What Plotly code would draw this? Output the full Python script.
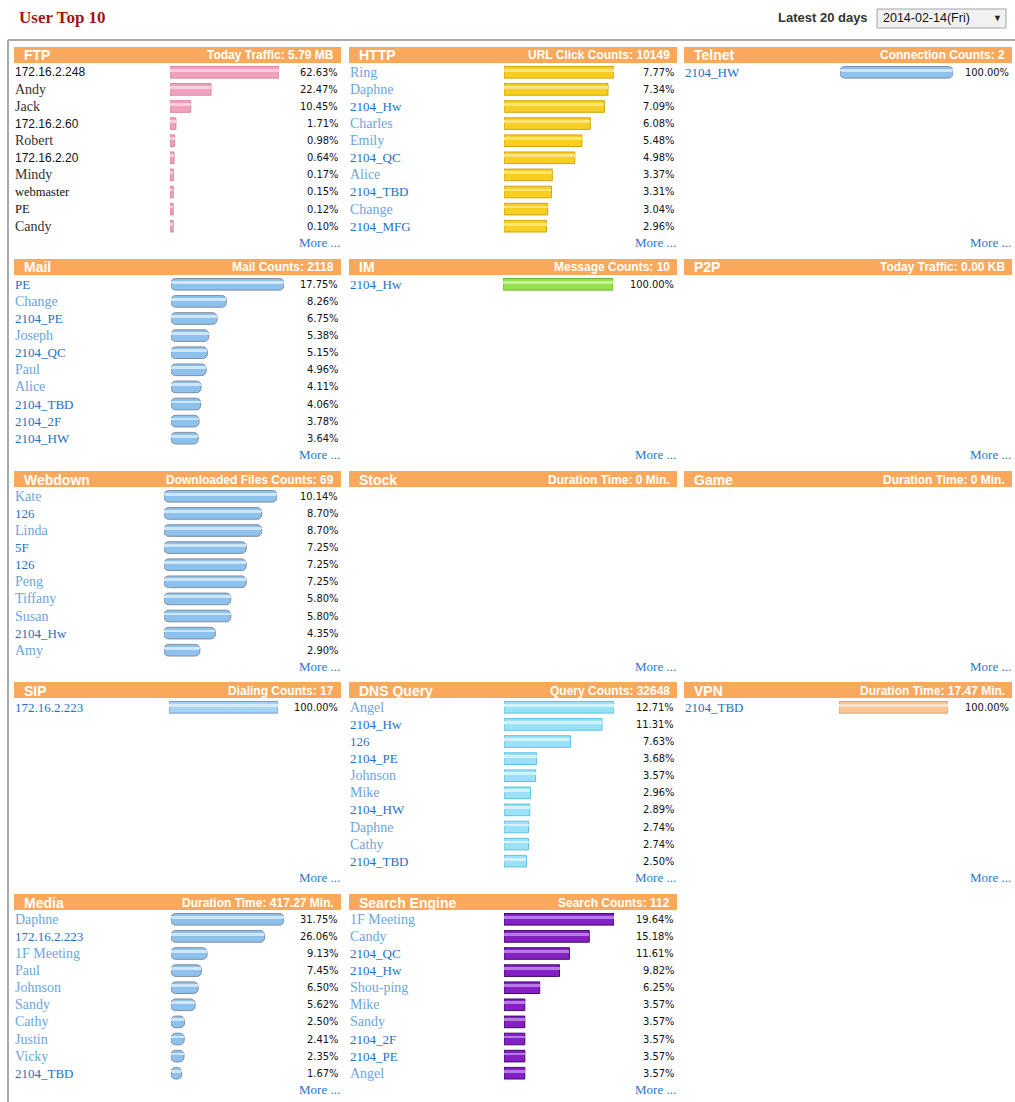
import plotly.graph_objects as go

W, H = 1015, 1102

# ---------------- data ----------------
ftp_users = ["172.16.2.248", "Andy", "Jack", "172.16.2.60", "Robert", "172.16.2.20",
             "Mindy", "webmaster", "PE", "Candy"]
ftp_pct = [62.63, 22.47, 10.45, 1.71, 0.98, 0.64, 0.17, 0.15, 0.12, 0.10]

http_users = ["Ring", "Daphne", "2104_Hw", "Charles", "Emily", "2104_QC", "Alice",
              "2104_TBD", "Change", "2104_MFG"]
http_pct = [7.77, 7.34, 7.09, 6.08, 5.48, 4.98, 3.37, 3.31, 3.04, 2.96]

telnet_users = ["2104_HW"]
telnet_pct = [100.00]

mail_users = ["PE", "Change", "2104_PE", "Joseph", "2104_QC", "Paul", "Alice",
              "2104_TBD", "2104_2F", "2104_HW"]
mail_pct = [17.75, 8.26, 6.75, 5.38, 5.15, 4.96, 4.11, 4.06, 3.78, 3.64]

im_users = ["2104_Hw"]
im_pct = [100.00]

webdown_users = ["Kate", "126", "Linda", "5F", "126", "Peng", "Tiffany", "Susan",
                 "2104_Hw", "Amy"]
webdown_pct = [10.14, 8.70, 8.70, 7.25, 7.25, 7.25, 5.80, 5.80, 4.35, 2.90]

sip_users = ["172.16.2.223"]
sip_pct = [100.00]

dns_users = ["Angel", "2104_Hw", "126", "2104_PE", "Johnson", "Mike", "2104_HW",
             "Daphne", "Cathy", "2104_TBD"]
dns_pct = [12.71, 11.31, 7.63, 3.68, 3.57, 2.96, 2.89, 2.74, 2.74, 2.50]

vpn_users = ["2104_TBD"]
vpn_pct = [100.00]

media_users = ["Daphne", "172.16.2.223", "1F Meeting", "Paul", "Johnson", "Sandy",
               "Cathy", "Justin", "Vicky", "2104_TBD"]
media_pct = [31.75, 26.06, 9.13, 7.45, 6.50, 5.62, 2.50, 2.41, 2.35, 1.67]

search_users = ["1F Meeting", "Candy", "2104_QC", "2104_Hw", "Shou-ping", "Mike",
                "Sandy", "2104_2F", "2104_PE", "Angel"]
search_pct = [19.64, 15.18, 11.61, 9.82, 6.25, 3.57, 3.57, 3.57, 3.57, 3.57]

panel_titles = ["FTP", "HTTP", "Telnet", "Mail", "IM", "P2P", "Webdown", "Stock", "Game",
                "SIP", "DNS Query", "VPN", "Media", "Search Engine"]
panel_stats = ["Today Traffic: 5.79 MB", "URL Click Counts: 10149", "Connection Counts: 2",
               "Mail Counts: 2118", "Message Counts: 10", "Today Traffic: 0.00 KB",
               "Downloaded Files Counts: 69", "Duration Time: 0 Min.", "Duration Time: 0 Min.",
               "Dialing Counts: 17", "Query Counts: 32648", "Duration Time: 17.47 Min.",
               "Duration Time: 417.27 Min.", "Search Counts: 112"]
panel_users = [ftp_users, http_users, telnet_users, mail_users, im_users, [], webdown_users,
               [], [], sip_users, dns_users, vpn_users, media_users, search_users]
panel_pct = [ftp_pct, http_pct, telnet_pct, mail_pct, im_pct, [], webdown_pct,
             [], [], sip_pct, dns_pct, vpn_pct, media_pct, search_pct]

# ---------------- styling ----------------
HEADER_COLOR = "#FAA95C"
# cap: pixel length of the bar's end cap drawn before the zero point
BAR_STYLES = {
    "pink":   dict(fill="#F2A0BE", edge="#D7879F", hl="#F9CFDF", radius=0, cap=3),
    "yellow": dict(fill="#F7CE22", edge="#CFA510", hl="#FCE47A", radius=0, cap=1),
    "blue":   dict(fill="#8DC1EE", edge="#7F8C9C", hl="#CFE6FA", radius=5, cap=5),
    "green":  dict(fill="#97E24C", edge="#6CB23A", hl="#C8F29A", radius=0, cap=1),
    "sky":    dict(fill="#A6D2F3", edge="#6E9FCD", hl="#D6EBFA", radius=0, cap=1),
    "cyan":   dict(fill="#99E2F8", edge="#5CC2E4", hl="#D2F3FC", radius=0, cap=1),
    "peach":  dict(fill="#F7C697", edge="#DDA06A", hl="#FBE3CB", radius=0, cap=1),
    "purple": dict(fill="#8420C4", edge="#3F0A6A", hl="#B77BE6", radius=0, cap=1),
}
PANEL_STYLE = {"FTP": "pink", "HTTP": "yellow", "Telnet": "blue", "Mail": "blue",
               "IM": "green", "Webdown": "blue", "SIP": "sky", "DNS Query": "cyan",
               "VPN": "peach", "Media": "blue", "Search Engine": "purple"}
# left pixel of the bar track and its full length in pixels for the largest value
BAR_GEOM = {"FTP": (170, 109), "HTTP": (504, 110), "Telnet": (840, 113),
            "Mail": (171, 113), "IM": (503, 110), "Webdown": (164, 113),
            "SIP": (169, 109), "DNS Query": (504, 110), "VPN": (839, 109),
            "Media": (171, 113), "Search Engine": (504, 110)}

COL_LEFT = [14, 349, 684]
COL_RIGHT = [341, 677, 1012]
ROW_TOP = [47, 259, 471, 682, 894]
HEADER_H = 16
FIRST_ROW = 25.3
ROW_PITCH = 17.1

LABEL_FONT = "Liberation Serif, Times New Roman, serif"
IP_FONT = "Liberation Sans, Arial, sans-serif"
PCT_FONT = "DejaVu Sans Condensed, DejaVu Sans, sans-serif"
HEAD_FONT = "Liberation Sans, Arial, sans-serif"


def fx(px):
    return px / W


def fy(py):
    return 1 - py / H


def label_style(panel, name):
    """Return (colour, size, family) for a user label."""
    if panel == "FTP":
        if name.replace(".", "").isdigit():
            return "#111111", 12, IP_FONT
        if name in ("webmaster", "PE"):
            return "#111111", 12.5, LABEL_FONT
        return "#333333", 14, LABEL_FONT
    if "_" in name or not any(ch.islower() for ch in name):
        return "#1E70C6", 13, LABEL_FONT
    return "#6BA5DE", 14, LABEL_FONT


fig = go.Figure()
shapes = []
annotations = []
layout_axes = {}

# page title and date selector
annotations.append(dict(text="<b>User Top 10</b>", x=fx(17), y=fy(17), xref="paper", yref="paper",
                        xanchor="left", yanchor="middle", showarrow=False,
                        font=dict(family=LABEL_FONT, size=17, color="#A31515")))
annotations.append(dict(text="<b>Latest 20 days</b>", x=fx(776), y=fy(18), xref="paper", yref="paper",
                        xanchor="left", yanchor="middle", showarrow=False,
                        font=dict(family=HEAD_FONT, size=13, color="#333333")))
shapes.append(dict(type="rect", xref="paper", yref="paper", x0=fx(877), x1=fx(1006),
                   y0=fy(28), y1=fy(9), fillcolor="#F1F1F1",
                   line=dict(color="#A3A3A3", width=1)))
annotations.append(dict(text="2014-02-14(Fri)", x=fx(881), y=fy(18.5), xref="paper", yref="paper",
                        xanchor="left", yanchor="middle", showarrow=False,
                        font=dict(family=HEAD_FONT, size=12.5, color="#111111")))
annotations.append(dict(text="▼", x=fx(997), y=fy(18), xref="paper", yref="paper",
                        xanchor="center", yanchor="middle", showarrow=False,
                        font=dict(family=HEAD_FONT, size=9, color="#222222")))

# outer frame (top and left edges)
shapes.append(dict(type="line", xref="paper", yref="paper", x0=fx(8), x1=fx(1015),
                   y0=fy(40), y1=fy(40), line=dict(color="#AAAAAA", width=2)))
shapes.append(dict(type="line", xref="paper", yref="paper", x0=fx(8), x1=fx(8),
                   y0=fy(40), y1=0, line=dict(color="#AAAAAA", width=2)))

axis_n = 0
for idx, title in enumerate(panel_titles):
    r, c = divmod(idx, 3)
    left, right, top = COL_LEFT[c], COL_RIGHT[c], ROW_TOP[r]
    users, pct = panel_users[idx], panel_pct[idx]

    # header band
    shapes.append(dict(type="rect", xref="paper", yref="paper", x0=fx(left), x1=fx(right),
                       y0=fy(top + HEADER_H), y1=fy(top), fillcolor=HEADER_COLOR,
                       line=dict(width=0), layer="below"))
    annotations.append(dict(text=f"<b>{title}</b>", x=fx(left + 8), y=fy(top + 8.5),
                            xref="paper", yref="paper", xanchor="left", yanchor="middle",
                            showarrow=False, font=dict(family=HEAD_FONT, size=14, color="#FFFFFF")))
    annotations.append(dict(text=f"<b>{panel_stats[idx]}</b>", x=fx(right - 5), y=fy(top + 8.5),
                            xref="paper", yref="paper", xanchor="right", yanchor="middle",
                            showarrow=False, font=dict(family=HEAD_FONT, size=12, color="#FFFFFF")))
    annotations.append(dict(text="More ...", x=fx(right + 1), y=fy(top + 195.5),
                            xref="paper", yref="paper", xanchor="right", yanchor="middle",
                            showarrow=False, font=dict(family=LABEL_FONT, size=13, color="#2577CC")))

    if not users:
        continue

    axis_n += 1
    sfx = "" if axis_n == 1 else str(axis_n)
    xname, yname = "x" + sfx, "y" + sfx
    st = BAR_STYLES[PANEL_STYLE[title]]
    bx, bl = BAR_GEOM[title]
    vmax = max(pct)
    cap_units = st["cap"] * vmax / (bl - st["cap"])
    y_top = top + FIRST_ROW - 0.5 * ROW_PITCH
    y_bot = top + FIRST_ROW + 9.5 * ROW_PITCH
    layout_axes["xaxis" + sfx] = dict(domain=[fx(bx), fx(bx + bl)], range=[-cap_units, vmax],
                                      visible=False, fixedrange=True, anchor=yname)
    layout_axes["yaxis" + sfx] = dict(domain=[fy(y_bot), fy(y_top)], range=[9.5, -0.5],
                                      visible=False, fixedrange=True, anchor=xname)

    pos = list(range(len(pct)))
    # each bar runs from the start of its end cap (-cap_units) to its value
    span = [v + cap_units for v in pct]
    fig.add_trace(go.Bar(x=span, y=pos, base=-cap_units, orientation="h",
                         xaxis=xname, yaxis=yname, width=0.68, offset=-0.34,
                         marker=dict(color=st["fill"], line=dict(color=st["edge"], width=1),
                                     cornerradius=st["radius"]),
                         customdata=pct, hovertemplate="%{customdata:.2f}%<extra></extra>",
                         showlegend=False))
    # glossy highlight stripe on the upper half of each bar
    fig.add_trace(go.Bar(x=span, y=pos, base=-cap_units, orientation="h",
                         xaxis=xname, yaxis=yname, width=0.16, offset=-0.2,
                         marker=dict(color=st["hl"], line=dict(width=0),
                                     cornerradius=min(st["radius"], 1)),
                         hoverinfo="skip", showlegend=False))

    for i, (name, v) in enumerate(zip(users, pct)):
        colr, size, fam = label_style(title, name)
        annotations.append(dict(text=name, x=fx(left - 1), y=i, xref="paper", yref=yname,
                                xanchor="left", yanchor="middle", showarrow=False,
                                font=dict(family=fam, size=size, color=colr)))
        annotations.append(dict(text=f"{v:.2f}%", x=fx(right - 1), y=i, xref="paper", yref=yname,
                                xanchor="right", yanchor="middle", showarrow=False,
                                font=dict(family=PCT_FONT, size=11, color="#111111")))

fig.update_layout(
    width=W, height=H, autosize=False,
    margin=dict(l=0, r=0, t=0, b=0),
    paper_bgcolor="#FFFFFF", plot_bgcolor="rgba(0,0,0,0)",
    barmode="overlay", bargap=0,
    shapes=shapes, annotations=annotations,
    showlegend=False,
    **layout_axes,
)

fig.write_html("out.html", config={"displayModeBar": False, "staticPlot": True})
